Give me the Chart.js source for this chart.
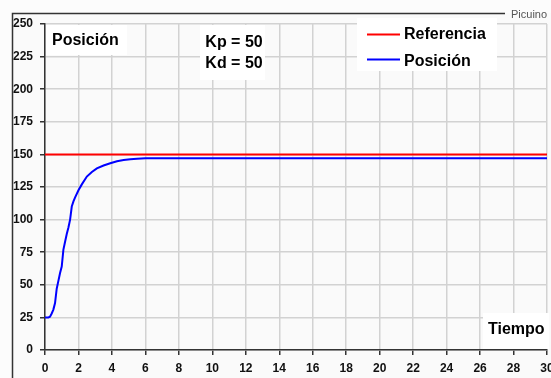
<!DOCTYPE html>
<html>
<head>
<meta charset="utf-8">
<script src="https://cdn.jsdelivr.net/npm/chart.js@4/dist/chart.umd.min.js"></script>
<style>
  body { margin: 0; background: #fcfcfc; }
  canvas { display: block; }
</style>
</head>
<body>
<canvas id="grafico" width="551" height="378"></canvas>
<script>
// datos
const tiempo = [0, 0.2, 0.3, 0.4, 0.5, 0.6, 0.7, 0.8, 0.9, 1.0, 1.1, 1.2, 1.3, 1.4, 1.5, 1.6, 1.7, 1.8, 2.0, 2.2, 2.5, 2.8, 3.1, 3.5, 3.9, 4.3, 4.7, 5.1, 5.5, 6, 8, 30];
const posicion = [25, 25, 25.5, 28, 31, 36, 47, 53, 59, 64, 77, 83, 89, 94, 100, 110, 114, 117, 122.5, 127, 133, 136.5, 139.3, 141.5, 143.2, 144.8, 145.7, 146.3, 146.7, 147, 147, 147];
const tiempoRef = [0, 30];
const referencia = [150, 150];
const ticksX = [0, 30, 2];
const ticksY = [0, 250, 25];

const aPuntos = (xs, ys) => xs.map((x, i) => ({ x: x, y: ys[i] }));

const fuenteTick = { family: "Arial, 'Liberation Sans'", size: 12, weight: "bold" };

// cajas blancas con texto sobre la rejilla
const textos = {
  id: "textos",
  beforeDraw(chart) {
    const ctx = chart.ctx;
    ctx.save();
    ctx.fillStyle = "#fafafa";
    ctx.fillRect(12, 13, 551, 378);
    ctx.restore();
  },
  beforeDatasetsDraw(chart) {
    const ctx = chart.ctx;
    ctx.save();
    ctx.fillStyle = "#ffffff";
    ctx.fillRect(46, 25, 81, 30);
    ctx.fillRect(200, 25, 65, 55);
    ctx.fillRect(357, 18, 140, 53);
    ctx.fillRect(483, 313, 66, 36);

    ctx.fillStyle = "#000";
    ctx.font = "bold 16px Arial, 'Liberation Sans'";
    ctx.textBaseline = "middle";
    ctx.textAlign = "left";
    ctx.fillText("Posición", 52, 41);
    ctx.fillText("Referencia", 404, 35);
    ctx.fillText("Posición", 404, 62);
    ctx.fillText("Tiempo", 488, 330);
    ctx.textAlign = "center";
    ctx.fillText("Kp = 50", 234, 43);
    ctx.fillText("Kd = 50", 234, 64);

    ctx.lineWidth = 2;
    ctx.strokeStyle = "#ff0000";
    ctx.beginPath(); ctx.moveTo(367, 34.5); ctx.lineTo(400, 34.5); ctx.stroke();
    ctx.strokeStyle = "#0000ff";
    ctx.beginPath(); ctx.moveTo(367, 59.5); ctx.lineTo(400, 59.5); ctx.stroke();
    ctx.restore();
  },
  afterDraw(chart) {
    const ctx = chart.ctx;
    ctx.save();
    ctx.strokeStyle = "#333";
    ctx.lineWidth = 1.5;
    ctx.beginPath();
    ctx.moveTo(505, 13.5);
    ctx.lineTo(12.5, 13.5);
    ctx.lineTo(12.5, 378);
    ctx.stroke();
    ctx.fillStyle = "#555";
    ctx.font = "11px Arial, 'Liberation Sans'";
    ctx.textBaseline = "middle";
    ctx.textAlign = "left";
    ctx.fillText("Picuino", 511, 15);
    ctx.restore();
  }
};

new Chart(document.getElementById("grafico"), {
  type: "line",
  data: {
    datasets: [
      {
        label: "Referencia",
        data: aPuntos(tiempoRef, referencia),
        borderColor: "#ff0000",
        borderWidth: 2,
        pointRadius: 0,
        order: 2
      },
      {
        label: "Posición",
        data: aPuntos(tiempo, posicion),
        borderColor: "#0000ff",
        borderWidth: 2,
        pointRadius: 0,
        tension: 0,
        order: 1
      }
    ]
  },
  options: {
    responsive: false,
    animation: false,
    layout: { padding: { left: 0, top: 24, right: 4, bottom: 0 } },
    plugins: { legend: { display: false }, tooltip: { enabled: false } },
    scales: {
      x: {
        type: "linear",
        min: ticksX[0],
        max: ticksX[1],
        ticks: { stepSize: ticksX[2], color: "#111", font: fuenteTick, padding: 6, maxRotation: 0, autoSkip: false },
        grid: { color: "#d2d2d2", lineWidth: 1.5, tickColor: "#333", tickLength: 5 },
        border: { color: "#333", width: 1.5 },
        afterFit(s) { s.height = 28; s.paddingLeft = 0; s.paddingRight = 0; }
      },
      y: {
        min: ticksY[0],
        max: ticksY[1],
        ticks: { stepSize: ticksY[2], color: "#111", font: fuenteTick, padding: 7 },
        grid: { color: "#d2d2d2", lineWidth: 1.5, tickColor: "#333", tickLength: 5 },
        border: { color: "#333", width: 1.5 },
        afterFit(s) { s.width = 45; s.paddingTop = 0; s.paddingBottom = 0; }
      }
    }
  },
  plugins: [textos]
});
</script>
</body>
</html>
